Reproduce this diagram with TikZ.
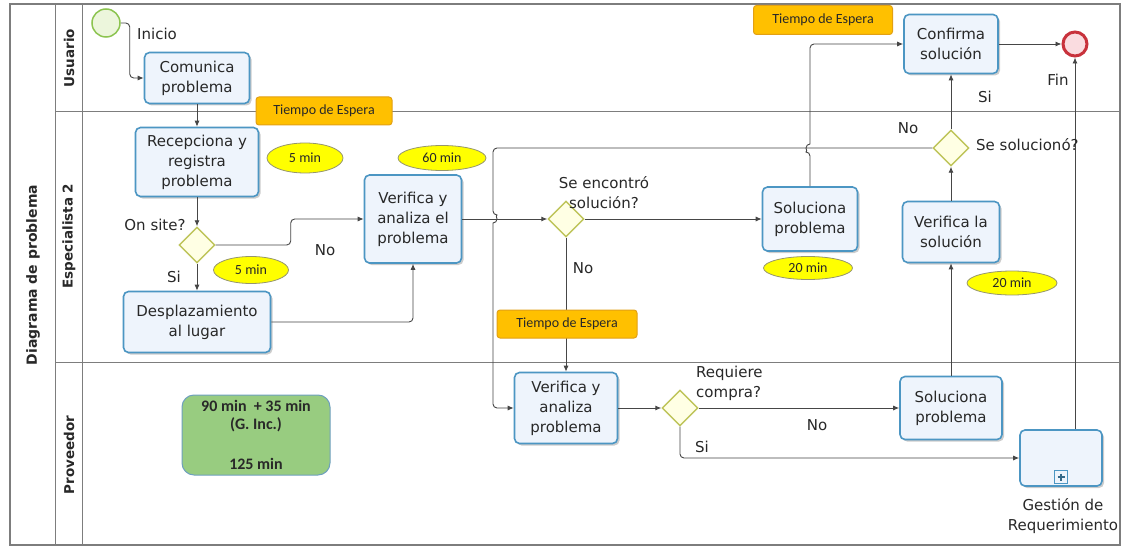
\documentclass[tikz,border=0pt]{standalone}
\usepackage{fontspec}
\setmainfont{DejaVu Sans}
\newfontfamily\calfont{Carlito}
\usetikzlibrary{shapes.geometric,arrows.meta,shadows}

\definecolor{taskline}{RGB}{76,150,195}
\definecolor{taskfill}{RGB}{238,244,252}
\definecolor{gateline}{RGB}{190,196,90}
\definecolor{gatefill}{RGB}{255,255,228}
\definecolor{waitfill}{RGB}{255,192,0}
\definecolor{waitline}{RGB}{226,160,20}
\definecolor{badgefill}{RGB}{255,255,0}
\definecolor{badgeline}{RGB}{150,150,110}
\definecolor{sumfill}{RGB}{152,204,128}
\definecolor{sumline}{RGB}{110,160,190}
\definecolor{startfill}{RGB}{236,246,220}
\definecolor{startline}{RGB}{140,196,80}
\definecolor{endfill}{RGB}{250,220,224}
\definecolor{endline}{RGB}{200,50,60}
\definecolor{lanegray}{RGB}{125,125,125}
\definecolor{flowgray}{RGB}{70,70,70}
\definecolor{inkgray}{RGB}{40,40,40}

\newcommand\taskfont{\fontsize{15}{20}\selectfont}
\newcommand\lanefont{\bfseries\fontsize{13.5}{16}\selectfont}
\newcommand\notefont{\calfont\fontsize{14}{16}\selectfont}
\newcommand\sumfont{\calfont\bfseries\fontsize{16}{18}\selectfont}

\begin{document}
\begin{tikzpicture}[x=1pt,y=-1pt,
  task/.style={rectangle, rounded corners=5pt, draw=taskline, line width=1.6pt,
    fill=taskfill, align=center, font=\taskfont, text=inkgray, inner sep=2pt,
    drop shadow={shadow xshift=2pt, shadow yshift=-2pt, opacity=.2, fill=black}},
  gate/.style={diamond, draw=gateline, line width=1.4pt, fill=gatefill,
    minimum width=36pt, minimum height=36pt, inner sep=0pt},
  badge/.style={ellipse, draw=badgeline, line width=0.8pt, fill=badgefill,
    font=\notefont, text=inkgray, inner sep=0pt},
  waitbox/.style={rectangle, rounded corners=3pt, draw=waitline, line width=1pt,
    fill=waitfill, font=\notefont, text=inkgray, inner sep=0pt,
    minimum height=28pt},
  summary/.style={rectangle, rounded corners=12pt, draw=sumline, line width=1pt,
    fill=sumfill, font=\sumfont, text=inkgray, align=center, inner sep=0pt,
    minimum width=148pt, minimum height=80pt},
  lanelabel/.style={rotate=90, font=\lanefont, text=inkgray},
  lbl/.style={font=\taskfont, text=inkgray, inner sep=1pt},
  flow/.style={draw=flowgray, line width=0.9pt, rounded corners=4pt,
    -{Latex[length=6pt,width=5pt]}},
  laneline/.style={draw=lanegray, line width=1pt}
]
\useasboundingbox (0,0) rectangle (1123,548);
\fill[white] (0,0) rectangle (1123,548);

% pool frame and lanes
\draw[laneline, line width=1.4pt] (10,4) rectangle (1120,545);
\draw[laneline] (55,4) -- (55,545);
\draw[laneline] (82,4) -- (82,545);
\draw[laneline] (55,112) -- (1120,112);
\draw[laneline] (55,362) -- (1120,362);

\node[lanelabel, font=\bfseries\fontsize{14}{16}\selectfont] (pool) at (33,275) {Diagrama de problema};
\node[lanelabel] (laneU) at (69,58) {Usuario};
\node[lanelabel] (laneE) at (69,236) {Especialista 2};
\node[lanelabel] (laneP) at (69,455) {Proveedor};

% events
\node[circle, draw=startline, line width=1.5pt, fill=startfill, minimum size=28pt, inner sep=0pt] (inicio) at (106,23) {};
\node[circle, draw=endline, line width=3pt, fill=endfill, minimum size=24pt, inner sep=0pt] (fin) at (1075,44) {};

% tasks
\node[task, minimum width=105pt, minimum height=51pt] (comunica) at (197,78) {Comunica\\problema};
\node[task, minimum width=123pt, minimum height=69pt] (recepciona) at (197,162) {Recepciona y\\registra\\problema};
\node[task, minimum width=147pt, minimum height=61pt] (desplaz) at (197,322) {Desplazamiento\\al lugar};
\node[task, minimum width=97pt, minimum height=88pt] (verifica) at (413,219) {Verifica y\\analiza el\\problema};
\node[task, minimum width=95pt, minimum height=64pt] (solEsp) at (810,219) {Soluciona\\problema};
\node[task, minimum width=94pt, minimum height=59pt] (confirma) at (951,44) {Confirma\\solución};
\node[task, minimum width=97pt, minimum height=61pt] (verSol) at (951,232) {Verifica la\\solución};
\node[task, minimum width=103pt, minimum height=71pt] (verProv) at (566,408) {Verifica y\\analiza\\problema};
\node[task, minimum width=102pt, minimum height=63pt] (solProv) at (951,408) {Soluciona\\problema};
\node[task, minimum width=82pt, minimum height=56pt] (gestion) at (1061,458) {};
\node[rectangle, draw=taskline, line width=1pt, fill=taskfill, minimum size=13pt, inner sep=0pt] (gmark) at (1061,477) {};
\draw[taskline!70!black, line width=1.4pt] (gmark.center) ++(-3.5,0) -- ++(7,0)
  (gmark.center) ++(0,-3.5) -- ++(0,7);

% gateways
\node[gate] (onsite) at (197,245) {};
\node[gate] (encontro) at (566,219) {};
\node[gate] (sesol) at (951,148) {};
\node[gate] (requiere) at (680,408) {};

% sequence flows
\draw[flow] (inicio.east) -- ++(9,0) |- (comunica.west);
\draw[flow] (comunica) -- (recepciona);
\draw[flow] (recepciona) -- (onsite);
\draw[flow] (onsite) -- (desplaz);
\draw[flow] (onsite.east) -- ++(75,0) |- (verifica.west);
\draw[flow] (desplaz.east) -| (verifica.south);
\draw[flow] (verifica) -- (encontro);
\draw[flow] (encontro) -- (solEsp);
\draw[flow] (encontro) -- (verProv);
\draw[flow] (sesol.west) -- (493,148) -- (493,215) [sharp corners]
  arc[start angle=-90, end angle=90, radius=4] [rounded corners=4pt]
  -- (493,408) -- (verProv.west);
\draw[flow] (solEsp.north) -- (810,152) [sharp corners]
  arc[start angle=90, end angle=270, radius=4] [rounded corners=4pt]
  -- (810,44) -- (confirma.west);
\draw[flow] (confirma) -- (fin);
\draw[flow] (sesol) -- (confirma);
\draw[flow] (verSol) -- (sesol);
\draw[flow] (solProv) -- (verSol);
\draw[flow] (verProv) -- (requiere);
\draw[flow] (requiere) -- (solProv);
\draw[flow] (requiere.south) |- (gestion.west);
\draw[flow] (gestion.north -| fin.south) -- (fin.south);

% flow labels
\node[lbl, anchor=west] (tInicio) at (136,34) {Inicio};
\node[lbl] (tOnsite) at (155,225) {On site?};
\node[lbl] (tSi1) at (174,277) {Si};
\node[lbl] (tNo1) at (325,250) {No};
\node[lbl, align=center] (tEnc) at (604,193) {Se encontró\\solución?};
\node[lbl] (tNo2) at (583,268) {No};
\node[lbl] (tNo3) at (908,128) {No};
\node[lbl] (tSi2) at (985,97) {Si};
\node[lbl] (tFin) at (1058,80) {Fin};
\node[lbl, anchor=west] (tSesol) at (975,145) {Se solucionó?};
\node[lbl, align=left, anchor=west] (tReq) at (695,383) {Requiere\\compra?};
\node[lbl] (tNo4) at (817,425) {No};
\node[lbl] (tSi3) at (702,447) {Si};
\node[lbl, align=center] (tGest) at (1063,516) {Gestión de\\Requerimiento};

% time summary
\node[summary] (resumen) at (256,435) {90 min~~+ 35 min\\(G. Inc.)\\[22pt]125 min};

% waiting notes
\node[waitbox, minimum width=136pt] (espera1) at (324,111) {Tiempo de Espera};
\node[waitbox, minimum width=139pt, minimum height=29pt] (espera2) at (823,20) {Tiempo de Espera};
\node[waitbox, minimum width=140pt] (espera3) at (567,324) {Tiempo de Espera};

% durations
\node[badge, minimum width=76pt, minimum height=30pt] (d1) at (305,158) {5 min};
\node[badge, minimum width=75pt, minimum height=27pt] (d2) at (251,270) {5 min};
\node[badge, minimum width=88pt, minimum height=25pt] (d3) at (442,158) {60 min};
\node[badge, minimum width=89pt, minimum height=23pt] (d4) at (808,268) {20 min};
\node[badge, minimum width=90pt, minimum height=24pt] (d5) at (1012,283) {20 min};
\end{tikzpicture}
\end{document}
